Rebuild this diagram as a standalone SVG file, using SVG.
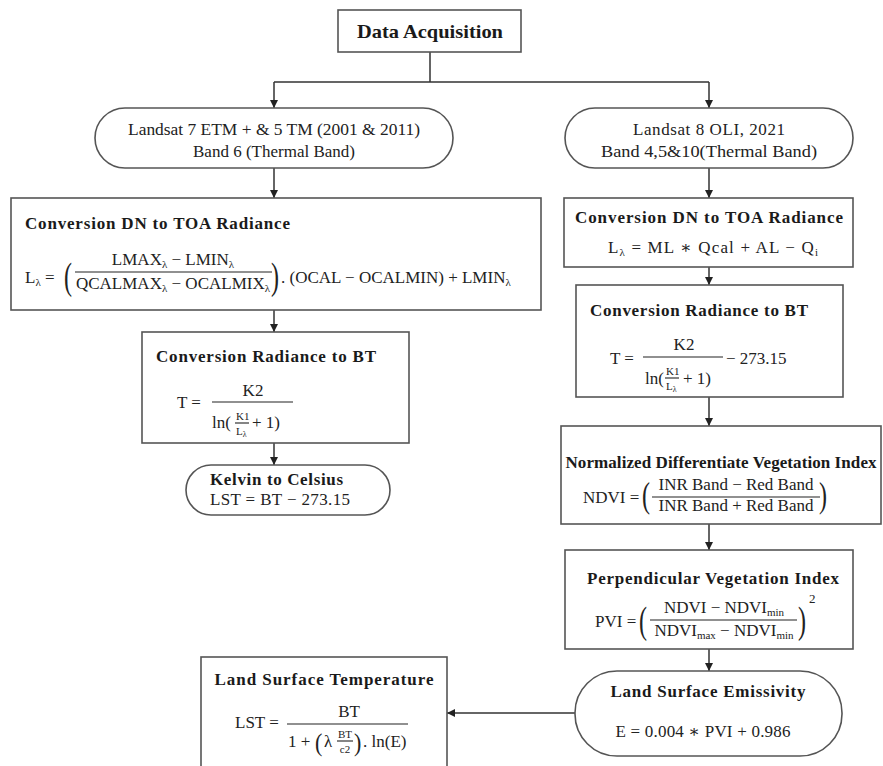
<svg xmlns="http://www.w3.org/2000/svg" width="883" height="766" viewBox="0 0 883 766">
<defs>
<marker id="ah" markerUnits="userSpaceOnUse" markerWidth="8" markerHeight="8" refX="8" refY="4" orient="auto">
<path d="M0,0 L8,4 L0,8 z" fill="#222"/>
</marker>
<style>
.box{fill:#fff;stroke:#555;stroke-width:1.6}
.t{font-family:"Liberation Serif","DejaVu Serif",serif;font-weight:bold;font-size:17px;fill:#1a1a1a}
.r{font-family:"Liberation Serif","DejaVu Serif",serif;font-size:17px;fill:#222}
.s{font-size:11px}
.k{font-family:"Liberation Serif","DejaVu Serif",serif;font-size:11px;fill:#222}
.pp{font-family:"Liberation Serif","DejaVu Serif",serif;font-size:24px;fill:#222}
.bar{stroke:#222;stroke-width:1.1}
.conn{stroke:#333;stroke-width:1.5;fill:none}
.arr{marker-end:url(#ah)}
.c{text-anchor:middle}
</style>
</defs>
<rect width="883" height="766" fill="#fff"/>

<g id="connectors">
<path class="conn" d="M430,52 V82 M274,82 H709"/>
<path class="conn arr" d="M274,82 V108"/>
<path class="conn arr" d="M709,82 V108"/>
<path class="conn arr" d="M274,168 V198"/>
<path class="conn arr" d="M709,168 V198"/>
<path class="conn arr" d="M274,310 V332"/>
<path class="conn arr" d="M274,443 V465"/>
<path class="conn arr" d="M709,267 V285"/>
<path class="conn arr" d="M709,397 V426"/>
<path class="conn arr" d="M709,524 V550"/>
<path class="conn arr" d="M709,649 V671"/>
<path class="conn arr" d="M575,713 H447"/>
</g>

<g id="data-acquisition">
<rect class="box" x="338" y="10" width="183" height="42"/>
<text class="t c" x="430" y="38" style="font-size:19px" textLength="146" lengthAdjust="spacingAndGlyphs">Data Acquisition</text>
</g>

<g id="landsat7">
<rect class="box" x="95" y="108" width="358" height="60" rx="30"/>
<text class="r c" x="274" y="135" textLength="292" lengthAdjust="spacingAndGlyphs">Landsat 7 ETM + &amp; 5 TM (2001 &amp; 2011)</text>
<text class="r c" x="274" y="157">Band 6 (Thermal Band)</text>
</g>

<g id="landsat8">
<rect class="box" x="565" y="108" width="288" height="60" rx="30"/>
<text class="r c" x="709" y="135" textLength="152" lengthAdjust="spacing">Landsat 8 OLI, 2021</text>
<text class="r c" x="709" y="157" textLength="216" lengthAdjust="spacingAndGlyphs">Band 4,5&amp;10(Thermal Band)</text>
</g>

<g id="dn-toa-left">
<rect class="box" x="11" y="198" width="530" height="112"/>
<text class="t" x="25" y="229" textLength="265" lengthAdjust="spacing">Conversion DN to TOA Radiance</text>
<text class="r" x="25" y="283">L<tspan class="s" dy="3">λ</tspan><tspan dy="-3"> =</tspan></text>
<text class="pp" transform="translate(64,289) scale(1,1.6)">(</text>
<text class="r c" x="173" y="265">LMAX<tspan class="s" dy="3">λ</tspan><tspan dy="-3"> − LMIN</tspan><tspan class="s" dy="3">λ</tspan></text>
<line class="bar" x1="75" y1="272" x2="272" y2="272"/>
<text class="r c" x="173" y="289">QCALMAX<tspan class="s" dy="3">λ</tspan><tspan dy="-3"> − OCALMIX</tspan><tspan class="s" dy="3">λ</tspan></text>
<text class="pp" transform="translate(271,289) scale(1,1.6)">)</text>
<text class="r" x="281" y="283">. (OCAL − OCALMIN) + LMIN<tspan class="s" dy="3">λ</tspan></text>
</g>

<g id="radiance-bt-left">
<rect class="box" x="142" y="332" width="267" height="111"/>
<text class="t" x="156" y="362" textLength="220" lengthAdjust="spacing">Conversion Radiance to BT</text>
<text class="r" x="177" y="408">T =</text>
<text class="r c" x="253" y="396">K2</text>
<line class="bar" x1="212" y1="402" x2="293" y2="402"/>
<text class="r" x="212" y="428">ln(</text>
<text class="k" x="236" y="420">K1</text>
<line class="bar" x1="235" y1="423" x2="249" y2="423" stroke-width="0.8"/>
<text class="k" x="236" y="435">L<tspan font-size="8" dy="2">λ</tspan></text>
<text class="r" x="252" y="428">+ 1)</text>
</g>

<g id="kelvin-celsius">
<rect class="box" x="186" y="465" width="204" height="50" rx="25"/>
<text class="t" x="210" y="485" textLength="133" lengthAdjust="spacing">Kelvin to Celsius</text>
<text class="r" x="210" y="505" textLength="140" lengthAdjust="spacing">LST = BT − 273.15</text>
</g>

<g id="dn-toa-right">
<rect class="box" x="564" y="198" width="289" height="69"/>
<text class="t c" x="709" y="223" textLength="268" lengthAdjust="spacing">Conversion DN to TOA Radiance</text>
<text class="r" x="608" y="253" textLength="210" lengthAdjust="spacing">L<tspan class="s" dy="3">λ</tspan><tspan dy="-3"> = ML ∗ Qcal + AL − Q</tspan><tspan class="s" dy="3">i</tspan></text>
</g>

<g id="radiance-bt-right">
<rect class="box" x="576" y="285" width="267" height="112"/>
<text class="t" x="590" y="316" textLength="218" lengthAdjust="spacing">Conversion Radiance to BT</text>
<text class="r" x="610" y="364">T =</text>
<text class="r c" x="684" y="350">K2</text>
<line class="bar" x1="643" y1="357" x2="723" y2="357"/>
<text class="r" x="645" y="384">ln(</text>
<text class="k" x="666" y="375">K1</text>
<line class="bar" x1="665" y1="378" x2="679" y2="378" stroke-width="0.8"/>
<text class="k" x="666" y="390">L<tspan font-size="8" dy="2">λ</tspan></text>
<text class="r" x="683" y="384">+ 1)</text>
<text class="r" x="726" y="364">− 273.15</text>
</g>

<g id="ndvi">
<rect class="box" x="561" y="426" width="320" height="98"/>
<text class="t c" x="721" y="468" textLength="311" lengthAdjust="spacing">Normalized Differentiate Vegetation Index</text>
<text class="r" x="583" y="503">NDVI =</text>
<text class="pp" transform="translate(642,507) scale(1,1.45)">(</text>
<text class="r c" x="736" y="490">INR Band − Red Band</text>
<line class="bar" x1="652" y1="497" x2="820" y2="497"/>
<text class="r c" x="736" y="511">INR Band + Red Band</text>
<text class="pp" transform="translate(819,507) scale(1,1.45)">)</text>
</g>

<g id="pvi">
<rect class="box" x="565" y="550" width="288" height="99"/>
<text class="t c" x="713" y="584" textLength="252" lengthAdjust="spacing">Perpendicular Vegetation Index</text>
<text class="r" x="595" y="627">PVI =</text>
<text class="pp" transform="translate(639,633) scale(1,1.6)">(</text>
<text class="r c" x="724" y="613">NDVI  − NDVI<tspan class="s" dy="3">min</tspan></text>
<line class="bar" x1="650" y1="620" x2="797" y2="620"/>
<text class="r c" x="724" y="636">NDVI<tspan class="s" dy="3">max</tspan><tspan dy="-3"> − NDVI</tspan><tspan class="s" dy="3">min</tspan></text>
<text class="pp" transform="translate(798,633) scale(1,1.6)">)</text>
<text class="k" x="809" y="603" style="font-size:13px">2</text>
</g>

<g id="emissivity">
<rect class="box" x="575" y="671" width="267" height="85" rx="42"/>
<text class="t c" x="708" y="697" textLength="195" lengthAdjust="spacing">Land Surface Emissivity</text>
<text class="r c" x="703" y="737" textLength="175" lengthAdjust="spacing">E = 0.004 ∗ PVI + 0.986</text>
</g>

<g id="lst">
<rect class="box" x="201" y="657" width="246" height="115"/>
<text class="t c" x="324" y="685" textLength="219" lengthAdjust="spacing">Land Surface Temperature</text>
<text class="r" x="235" y="728">LST =</text>
<text class="r c" x="349" y="717">BT</text>
<line class="bar" x1="287" y1="724" x2="408" y2="724"/>
<text class="r" x="288" y="747">1 +</text>
<text class="pp" transform="translate(315,751) scale(1,1.1)" style="font-size:22px">(</text>
<text class="r" x="324" y="747">λ</text>
<text class="k" x="345" y="738" text-anchor="middle">BT</text>
<line class="bar" x1="337" y1="741" x2="353" y2="741" stroke-width="0.8"/>
<text class="k" x="345" y="753" text-anchor="middle">c2</text>
<text class="pp" transform="translate(354,751) scale(1,1.1)" style="font-size:22px">)</text>
<text class="r" x="363" y="747">. ln(E)</text>
</g>
</svg>
